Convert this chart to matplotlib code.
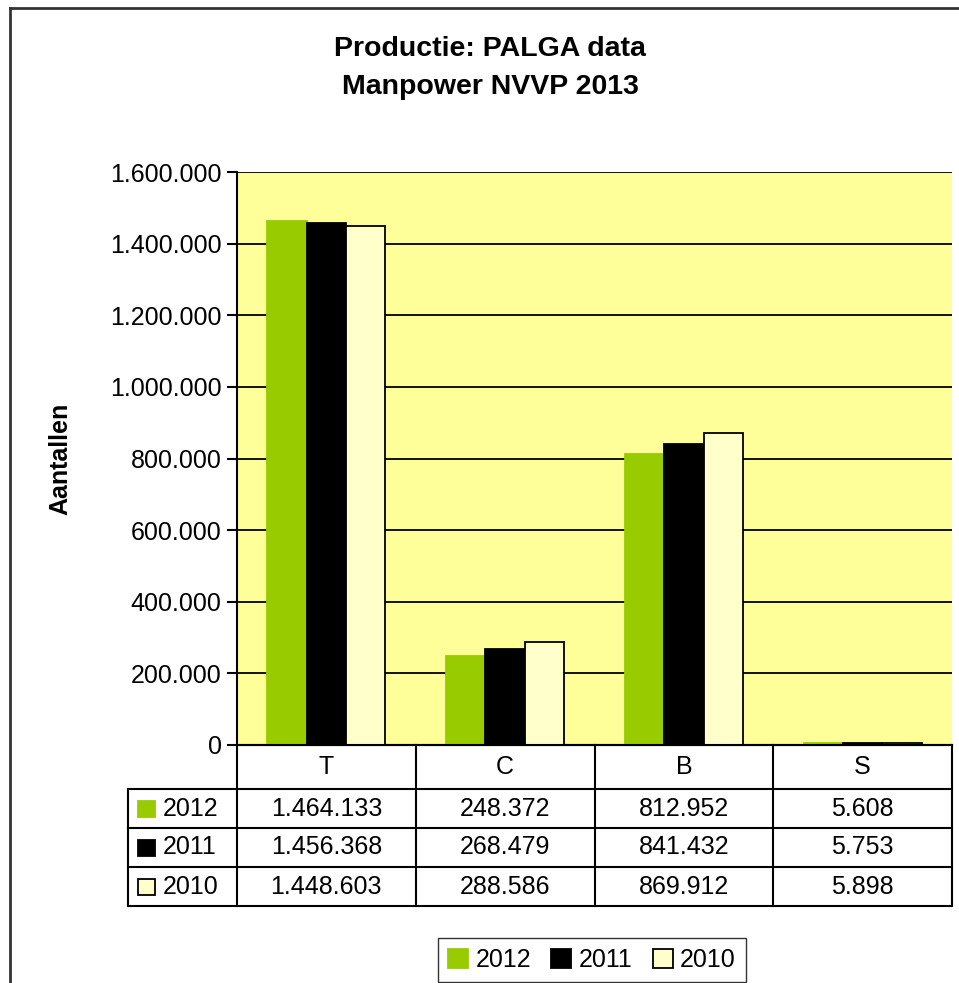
import numpy as np
import matplotlib
matplotlib.use('Agg')
import matplotlib.pyplot as plt
import matplotlib.transforms as mtransforms
from matplotlib.patches import Rectangle
from matplotlib.lines import Line2D
from matplotlib.ticker import FuncFormatter

# data
categories = ['T', 'C', 'B', 'S']
years = ['2012', '2011', '2010']
v2012 = [1464133, 248372, 812952, 5608]
v2011 = [1456368, 268479, 841432, 5753]
v2010 = [1448603, 288586, 869912, 5898]
series = [v2012, v2011, v2010]
yticks = [0, 200000, 400000, 600000, 800000, 1000000, 1200000, 1400000, 1600000]

colors = ['#99CC00', '#000000', '#FFFFCC']
edges = ['#99CC00', '#000000', '#000000']


def nl(v):
    # dutch thousands separator
    return f'{int(v):,}'.replace(',', '.')


plt.rcParams['font.family'] = ['Liberation Sans', 'DejaVu Sans']
fs = 18

W, H = 959, 983
fig = plt.figure(figsize=(W / 100, H / 100), dpi=100)
ax = fig.add_axes([237 / W, 1 - 745 / H, 715 / W, 573 / H])
ax.set_facecolor('#FFFF99')

x = np.arange(len(categories))
w = 0.22
bars = []
for i, vals in enumerate(series):
    b = ax.bar(x + (i - 1) * w, vals, w, color=colors[i], edgecolor=edges[i],
               linewidth=1.3, label=years[i], zorder=3)
    bars.append(b)

ax.set_xlim(-0.5, len(categories) - 0.5)
ax.set_ylim(0, 1600000)
ax.set_yticks(yticks)
ax.yaxis.set_major_formatter(FuncFormatter(lambda v, p: nl(v)))
ax.grid(axis='y', color='black', lw=1.3, zorder=1)
ax.set_axisbelow(True)
ax.set_xticks([])
for s in ['top', 'right']:
    ax.spines[s].set_visible(False)
ax.spines['left'].set_linewidth(1.5)
ax.spines['bottom'].set_linewidth(1.5)
ax.tick_params(axis='y', labelsize=fs, length=7, width=1.5, pad=4)
ax.set_ylabel('Aantallen', fontsize=fs, fontweight='bold')
ax.yaxis.set_label_coords((72 - 237) / 715, 0.5)

# data table under the plot
trans = mtransforms.blended_transform_factory(ax.transData, ax.transAxes)
hdr_h = 44 / 573
row_h = 39 / 573
lab_left = -0.5 - 109 / 178.75
col_edges = np.arange(len(categories) + 1) - 0.5
y_edges = [0, -hdr_h] + [-hdr_h - (k + 1) * row_h for k in range(len(years))]
lk = dict(color='black', lw=1.5, transform=trans, clip_on=False, zorder=5)

# horizontal lines
ax.plot([col_edges[0], col_edges[-1]], [y_edges[0]] * 2, **lk)
for yy in y_edges[1:]:
    ax.plot([lab_left, col_edges[-1]], [yy, yy], **lk)
# vertical lines
for xx in col_edges:
    ax.plot([xx, xx], [y_edges[0], y_edges[-1]], **lk)
ax.plot([lab_left, lab_left], [y_edges[1], y_edges[-1]], **lk)

for j, cat in enumerate(categories):
    ax.text(j, -hdr_h / 2, cat, transform=trans, ha='center', va='center', fontsize=fs)
for i, vals in enumerate(series):
    yc = -hdr_h - (i + 0.5) * row_h
    for j, v in enumerate(vals):
        ax.text(j, yc, nl(v), transform=trans, ha='center', va='center', fontsize=fs)
    # legend key + year in row label
    ax.add_patch(Rectangle((-0.5 - 99 / 178.75, yc - 8 / 573), 17 / 178.75, 16 / 573,
                           facecolor=colors[i], edgecolor=edges[i], lw=1.3,
                           transform=trans, clip_on=False, zorder=5))
    ax.text(-0.5 - 74 / 178.75, yc, years[i], transform=trans, ha='left', va='center',
            fontsize=fs)

# titles
fig.text(490 / W, 1 - 49 / H, 'Productie: PALGA data', ha='center', va='center',
         fontsize=20.5, fontweight='bold')
fig.text(490 / W, 1 - 87 / H, 'Manpower NVVP 2013', ha='center', va='center',
         fontsize=20.5, fontweight='bold')

# legend at bottom
fig.legend(handles=[b[0] for b in bars], labels=years, loc='upper center',
           bbox_to_anchor=(592 / W, 1 - 938 / H), ncol=3, frameon=True, fancybox=False,
           edgecolor='black', fontsize=fs, handlelength=0.8, handleheight=0.8,
           handletextpad=0.3, columnspacing=0.8, borderpad=0.4, borderaxespad=0)

# chart frame
fig.add_artist(Line2D([10 / W, 10 / W], [0, 1 - 8 / H], color='#333333', lw=2))
fig.add_artist(Line2D([10 / W, 1], [1 - 8 / H, 1 - 8 / H], color='#333333', lw=2))

fig.savefig('out.png', dpi=100, facecolor='white')
